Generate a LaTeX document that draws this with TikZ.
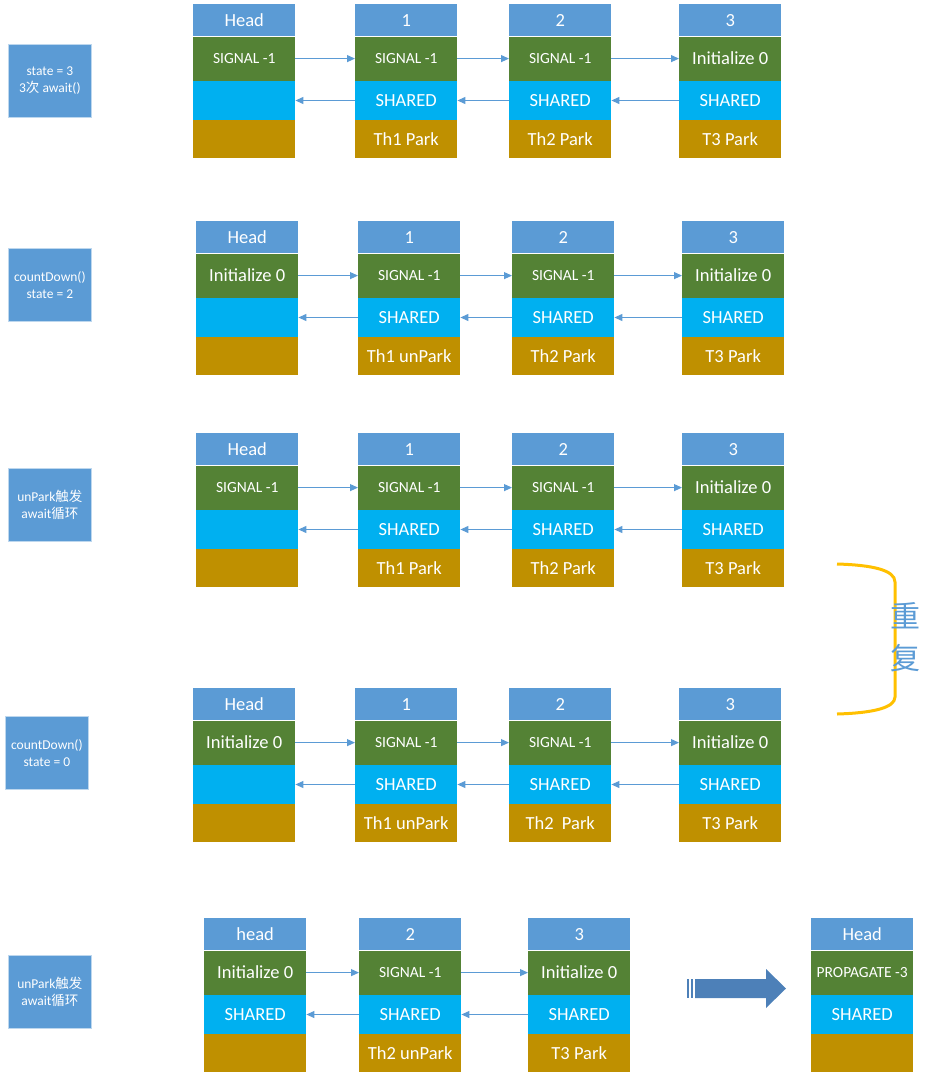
\documentclass[tikz,border=0pt]{standalone}
\usepackage{fontspec}
\setmainfont{Carlito}
\newfontfamily\cjk{Noto Sans CJK SC}
\usetikzlibrary{positioning,arrows.meta}
\definecolor{hdblue}{HTML}{5B9BD5}
\definecolor{stgreen}{HTML}{548235}
\definecolor{wscyan}{HTML}{00B0F0}
\definecolor{thgold}{HTML}{BF9000}
\definecolor{lnblue}{HTML}{5B9BD5}
\definecolor{brkt}{HTML}{FFC000}
\definecolor{bigblue}{HTML}{4D80B8}
\newcommand{\sig}[1]{{\fontsize{15.5}{17}\selectfont #1}}
\newcommand{\qnode}[7]{%
    \node [hd, anchor=north west] (#1-h) at (#2,#3) {#4};
    \node [st, below=0pt of #1-h] (#1-s) {#5};
    \node [ws, below=0pt of #1-s] (#1-w) {#6};
    \node [th, below=0pt of #1-w] (#1-t) {#7};
}

\begin{document}
\begin{tikzpicture}[x=1pt, y=-1pt,
        cell/.style={minimum width=102pt, inner sep=0pt, text=white, font=\fontsize{18.5}{20}\selectfont},
        hd/.style={cell, fill=hdblue, minimum height=32pt},
        st/.style={cell, fill=stgreen, minimum height=44pt},
        ws/.style={cell, fill=wscyan, minimum height=39pt},
        th/.style={cell, fill=thgold, minimum height=38pt},
        lbl/.style={fill=hdblue, draw=hdblue!40, line width=0.8pt, minimum width=83pt, minimum height=73pt,
            anchor=north west, align=center, text=white, inner sep=0pt, font=\fontsize{13.5}{17}\selectfont},
        nxt/.style={draw=lnblue, line width=1.1pt, -{Triangle[length=8pt, width=7pt]}}]
    \useasboundingbox (0,0) rectangle (938,1081);

    \node [lbl] (lbl-a) at (8,44) {state = 3\\3{\cjk 次} await()};
    \qnode{a-h}{193}{4}{Head}{\sig{SIGNAL -1}}{}{}
    \qnode{a-1}{355}{4}{1}{\sig{SIGNAL -1}}{SHARED}{Th1 Park}
    \qnode{a-2}{509}{4}{2}{\sig{SIGNAL -1}}{SHARED}{Th2 Park}
    \qnode{a-3}{679}{4}{3}{Initialize 0}{SHARED}{T3 Park}

    \node [lbl] (lbl-b) at (8,248) {countDown()\\state = 2};
    \qnode{b-h}{196}{221}{Head}{Initialize 0}{}{}
    \qnode{b-1}{358}{221}{1}{\sig{SIGNAL -1}}{SHARED}{Th1 unPark}
    \qnode{b-2}{512}{221}{2}{\sig{SIGNAL -1}}{SHARED}{Th2 Park}
    \qnode{b-3}{682}{221}{3}{Initialize 0}{SHARED}{T3 Park}

    \node [lbl] (lbl-c) at (8,468) {unPark{\cjk 触发}\\await{\cjk 循环}};
    \qnode{c-h}{196}{433}{Head}{\sig{SIGNAL -1}}{}{}
    \qnode{c-1}{358}{433}{1}{\sig{SIGNAL -1}}{SHARED}{Th1 Park}
    \qnode{c-2}{512}{433}{2}{\sig{SIGNAL -1}}{SHARED}{Th2 Park}
    \qnode{c-3}{682}{433}{3}{Initialize 0}{SHARED}{T3 Park}

    \node [lbl] (lbl-d) at (5,716) {countDown()\\state = 0};
    \qnode{d-h}{193}{688}{Head}{Initialize 0}{}{}
    \qnode{d-1}{355}{688}{1}{\sig{SIGNAL -1}}{SHARED}{Th1 unPark}
    \qnode{d-2}{509}{688}{2}{\sig{SIGNAL -1}}{SHARED}{Th2\ \ Park}
    \qnode{d-3}{679}{688}{3}{Initialize 0}{SHARED}{T3 Park}

    \node [lbl] (lbl-e) at (8,955) {unPark{\cjk 触发}\\await{\cjk 循环}};
    \qnode{e-h}{204}{918}{head}{Initialize 0}{SHARED}{}
    \qnode{e-2}{359}{918}{2}{\sig{SIGNAL -1}}{SHARED}{Th2 unPark}
    \qnode{e-3}{528}{918}{3}{Initialize 0}{SHARED}{T3 Park}
    \qnode{f-h}{811}{918}{Head}{\sig{PROPAGATE -3}}{SHARED}{}

    \foreach \r in {a,b,c,d}
        \foreach \i/\j in {h/1,1/2,2/3} {
            \draw [nxt] (\r-\i-s) -- (\r-\j-s);
            \draw [nxt] (\r-\j-w) -- (\r-\i-w);
        }
    \foreach \i/\j in {h/2,2/3} {
        \draw [nxt] (e-\i-s) -- (e-\j-s);
        \draw [nxt] (e-\j-w) -- (e-\i-w);
    }

    \fill [bigblue] (695,979) -- (766,979) -- (766,969) -- (786,988.5) -- (766,1008) -- (766,998) -- (695,998) -- cycle;
    \fill [bigblue] (687,979) rectangle (689,998);
    \fill [bigblue] (691,979) rectangle (693,998);

    \draw [brkt, line width=3pt] (837,564) .. controls (872,565) and (895,570) .. (895,582)
        -- (895,697) .. controls (895,708) and (872,713) .. (837,714);
    \node [text=hdblue, font=\cjk\fontsize{30}{42}\selectfont, align=center, inner sep=0pt] (rep) at (905,637) {重\\复};
\end{tikzpicture}
\end{document}
